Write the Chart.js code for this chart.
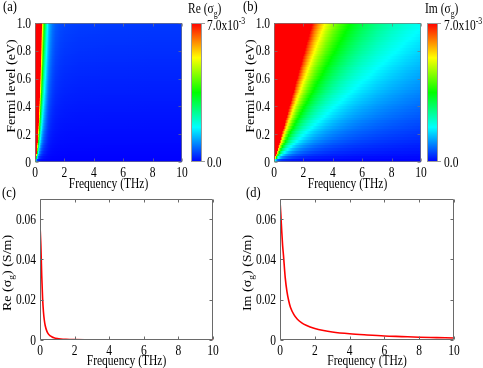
<!DOCTYPE html>
<html><head><meta charset="utf-8">
<script src="https://cdn.jsdelivr.net/npm/chart.js@4.4.1/dist/chart.umd.min.js"></script>
<style>
html,body{margin:0;padding:0;background:#fff;}
#wrap{position:relative;width:483px;height:368px;overflow:hidden;background:#fff;}
canvas{position:absolute;left:0;top:0;}
</style></head>
<body><div id="wrap">
<canvas id="ca" width="483" height="368"></canvas>
<canvas id="cb" width="483" height="368"></canvas>
<canvas id="cc" width="483" height="368"></canvas>
<canvas id="cd" width="483" height="368"></canvas>
</div>
<script>
// ---------------- data ----------------
const freqTicks  = [0, 2, 4, 6, 8, 10];
const fermiTicks = [0, 0.2, 0.4, 0.6, 0.8, 1.0];
const condTicks  = [0, 0.02, 0.04, 0.06];
const colorbarMax = 7.0;   // x10^-3

// Fermi-level rows of the maps (eV)
const fermiLevels = [0,0.02,0.04,0.06,0.08,0.1,0.12,0.14,0.16,0.18,0.2,0.22,0.24,0.26,0.28,0.3,0.32,0.34,0.36,0.38,0.4,0.42,0.44,0.46,0.48,0.5,0.52,0.54,0.56,0.58,0.6,0.62,0.64,0.66,0.68,0.7,0.72,0.74,0.76,0.78,0.8,0.82,0.84,0.86,0.88,0.9,0.92,0.94,0.96,0.98,1.0];

// (a) Re(sigma_g) read along the top row (Ef = 1 eV), x10^-3
const reMapFreq = [0,0.05,0.1,0.15,0.2,0.25,0.3,0.35,0.4,0.45,0.5,0.55,0.6,0.65,0.7,0.8,0.9,1.0,1.2,1.4,1.7,2.0,2.5,3,4,5,6,8,10];
const reMapTop  = [427,245,108,55,33,21.7,15.4,11.4,8.8,7.0,5.7,4.7,3.95,3.36,2.9,2.1,1.5,1.15,0.8,0.62,0.52,0.47,0.44,0.42,0.41,0.40,0.40,0.39,0.39];

// (b) Im(sigma_g) read along the top row (Ef = 1 eV), x10^-3
const imMapFreq = [0,0.1,0.2,0.3,0.4,0.5,0.6,0.8,1.0,1.25,1.5,1.75,2.0,2.25,2.5,2.75,3.0,3.5,4,4.5,5,5.5,6,7,8,9,10];
const imMapTop  = [280,182,91,61,45.5,36.4,30.3,22.8,18.2,14.6,12.1,10.4,9.1,8.1,7.3,6.6,6.07,5.2,4.55,4.05,3.64,3.31,3.03,2.6,2.28,2.02,1.82];

// (c) Re(sigma_g) (S/m)
const reLineFreq   = [0,0.05,0.1,0.15,0.2,0.25,0.3,0.4,0.5,0.6,0.7,0.8,1.0,1.2,1.5,2,3,4,6,8,10];
const reLineValues = [0.057,0.047,0.032,0.0207,0.0139,0.0098,0.0072,0.0043,0.0028,0.0020,0.00147,0.00113,0.00073,0.00051,0.00033,0.00018,0.00008,0.00005,0.00002,0.00001,0.00001];

// (d) Im(sigma_g) (S/m)
const imLineFreq   = [0,0.05,0.1,0.15,0.2,0.3,0.4,0.5,0.6,0.8,1.0,1.25,1.5,2,2.5,3,4,5,6,7,8,9,10];
const imLineValues = [0.069,0.062,0.054,0.047,0.042,0.031,0.024,0.0195,0.0163,0.0126,0.0103,0.0085,0.0073,0.0057,0.0047,0.0040,0.0031,0.0025,0.0020,0.0017,0.0014,0.0012,0.0010];

// ---------------- helpers ----------------
const FONT = '"Liberation Serif","Times New Roman",serif';
const FS = 11.5;
const YS = 1.22; // vertical stretch of the original figure's lettering
const cmapStops = [[0,[0,0,255]],[0.25,[0,255,255]],[0.5,[0,255,0]],[0.75,[255,255,0]],[1,[255,0,0]]];
function cmap(t){
  t = Math.max(0, Math.min(1, t));
  for (let i=0;i<cmapStops.length-1;i++){
    const [p0,c0]=cmapStops[i],[p1,c1]=cmapStops[i+1];
    if (t<=p1){ const u=(t-p0)/(p1-p0);
      return 'rgb('+c0.map((c,k)=>Math.round(c+(c1[k]-c)*u)).join(',')+')'; }
  }
  return 'rgb(255,0,0)';
}
function buildHeatTable(freqs, top){
  const cells=[];
  for (let i=0;i<fermiLevels.length-1;i++){
    const e0=fermiLevels[i], e1=fermiLevels[i+1], ef=(e0+e1)/2;
    for (let j=0;j<freqs.length;j++) cells.push({x:freqs[j], y:ef, y0:e0, y1:e1, row:i, v:ef*top[j]});
  }
  return cells;
}
function drawRich(ctx, it){
  const size = it.size || FS;
  ctx.save();
  ctx.translate(it.x, it.y);
  if (it.rot) { ctx.rotate(it.rot); ctx.scale(YS, 1); } else { ctx.scale(1, YS); }
  ctx.textBaseline='alphabetic'; ctx.textAlign='left'; ctx.fillStyle='#000';
  let w=0;
  const segs = it.parts.map(p=>{ const s=(p.sub||p.sup)?size*0.68:size; ctx.font=s+'px '+FONT; const mw=ctx.measureText(p.t).width; w+=mw; return {t:p.t,sub:p.sub,sup:p.sup,s,mw}; });
  let x = it.align==='center' ? -w/2 : (it.align==='right' ? -w : 0);
  for (const s of segs){ ctx.font=s.s+'px '+FONT; const dy = s.sub ? size*0.28 : (s.sup ? -size*0.42 : 0); ctx.fillText(s.t, x, dy); x+=s.mw; }
  ctx.restore();
}
function textPlugin(items){ return {id:'txt', afterDraw(chart){ items.forEach(it=>drawRich(chart.ctx,it)); }}; }
// tick labels, drawn at the library's tick positions
function tickLabelPlugin(xFmt, yFmt){ return {id:'tlab', afterDraw(chart){
  const {ctx, chartArea:a, scales} = chart;
  const dig = FS*0.33*YS;
  scales.x.ticks.forEach(tk=>{ drawRich(ctx,{parts:[{t:xFmt(tk.value)}], x:scales.x.getPixelForValue(tk.value), y:a.bottom+10+dig, align:'center'}); });
  scales.y.ticks.forEach(tk=>{ drawRich(ctx,{parts:[{t:yFmt(tk.value)}], x:a.left-4, y:scales.y.getPixelForValue(tk.value)+dig, align:'right'}); });
}}; }
function framePlugin(color){ return {id:'frame', afterDatasetsDraw(chart){
  const {ctx, chartArea:a, scales} = chart;
  ctx.save(); ctx.strokeStyle=color; ctx.lineWidth=1;
  const l=Math.round(a.left)+0.5, r=Math.round(a.right)-0.5, t=Math.round(a.top)+0.5, b=Math.round(a.bottom)-0.5;
  ctx.beginPath();
  ctx.rect(l,t,r-l,b-t);
  scales.x.ticks.forEach(tk=>{ const px=Math.round(scales.x.getPixelForValue(tk.value))+0.5; ctx.moveTo(px,b); ctx.lineTo(px,b-3); ctx.moveTo(px,t); ctx.lineTo(px,t+3); });
  scales.y.ticks.forEach(tk=>{ const py=Math.round(scales.y.getPixelForValue(tk.value))+0.5; ctx.moveTo(l,py); ctx.lineTo(l+3,py); ctx.moveTo(r,py); ctx.lineTo(r-3,py); });
  ctx.stroke(); ctx.restore();
}}; }
const heatPlugin = {id:'heat', beforeDatasetsDraw(chart){
  const ctx=chart.ctx, xs=chart.scales.x, ys=chart.scales.y;
  const cells=chart.data.datasets[0].data;
  const rows={};
  cells.forEach(c=>{ (rows[c.row]=rows[c.row]||[]).push(c); });
  ctx.save();
  Object.values(rows).forEach(pts=>{
    const yT=Math.round(ys.getPixelForValue(pts[0].y1)), yB=Math.round(ys.getPixelForValue(pts[0].y0));
    const xa=xs.getPixelForValue(pts[0].x), xb=xs.getPixelForValue(pts[pts.length-1].x);
    const g=ctx.createLinearGradient(xa,0,xb,0);
    const pos=p=> Math.min(1,Math.max(0,(xs.getPixelForValue(p)-xa)/(xb-xa)));
    for (let j=0;j<pts.length;j++){
      const t0=pts[j].v/colorbarMax;
      g.addColorStop(pos(pts[j].x), cmap(t0));
      if (j<pts.length-1){
        const t1=pts[j+1].v/colorbarMax;
        const bps=[0.25,0.5,0.75,1].filter(b=>(b-t0)*(b-t1)<0);
        if (t1<t0) bps.reverse();
        bps.forEach(b=>{ const u=(b-t0)/(t1-t0); g.addColorStop(pos(pts[j].x+(pts[j+1].x-pts[j].x)*u), cmap(b)); });
      }
    }
    ctx.fillStyle=g;
    ctx.fillRect(Math.round(xa), yT, Math.round(xb)-Math.round(xa), yB-yT);
  });
  ctx.restore();
}};
function colorbarPlugin(x0,x1){ return {id:'cbar', afterDraw(chart){
  const a=chart.chartArea, ctx=chart.ctx;
  const g=ctx.createLinearGradient(0,a.bottom,0,a.top);
  cmapStops.forEach(([p,c])=>g.addColorStop(p,'rgb('+c.join(',')+')'));
  ctx.save();
  ctx.fillStyle=g; ctx.fillRect(x0,Math.round(a.top),x1-x0,Math.round(a.bottom)-Math.round(a.top));
  ctx.strokeStyle='#9a9a9a'; ctx.lineWidth=1;
  ctx.strokeRect(x0+0.5,Math.round(a.top)+0.5,x1-x0-1,Math.round(a.bottom)-Math.round(a.top)-1);
  ctx.beginPath();
  ctx.moveTo(x1,Math.round(a.top)+0.5); ctx.lineTo(x1+3,Math.round(a.top)+0.5);
  ctx.moveTo(x1,Math.round(a.bottom)-0.5); ctx.lineTo(x1+3,Math.round(a.bottom)-0.5);
  ctx.stroke(); ctx.restore();
}}; }

const YW=30, XH=20;
function axisCfg(ticksArr, min, max){
  return {type:'linear', min, max,
    afterBuildTicks:s=>{ s.ticks = ticksArr.map(v=>({value:v})); },
    grid:{display:false, drawTicks:false}, border:{display:false},
    ticks:{display:false, font:{family:FONT,size:FS}}};
}
function makeOptions(L,T,R,B,yTicks,yMax){
  const x=axisCfg(freqTicks,0,10); x.afterFit=s=>{s.height=XH;};
  const y=axisCfg(yTicks,0,yMax); y.afterFit=s=>{s.width=YW;};
  return {responsive:false, animation:false, events:[],
    layout:{padding:{left:L-YW, top:T, right:483-R, bottom:368-B-XH}},
    plugins:{legend:{display:false}, tooltip:{enabled:false}},
    scales:{x, y}};
}
const fmtX = v => String(v);
const fmtF = v => v===0 ? '0' : v.toFixed(1);
const fmtC = v => v===0 ? '0' : v.toFixed(2);
const sig = (pre) => [{t:pre+' (σ'},{t:'g',sub:true},{t:')'}];

// (a)
new Chart(document.getElementById('ca'), {
  type:'scatter',
  data:{datasets:[{data:buildHeatTable(reMapFreq, reMapTop), pointRadius:0}]},
  options:makeOptions(35,23,182,162,fermiTicks,1),
  plugins:[heatPlugin, framePlugin('rgba(120,120,120,0.7)'), colorbarPlugin(191,202), tickLabelPlugin(fmtX,fmtF), textPlugin([
    {parts:[{t:'(a)'}], x:3, y:11, size:12.5},
    {parts:[{t:'Frequency (THz)'}], x:108.5, y:188, align:'center'},
    {parts:[{t:'Fermi level (eV)'}], x:15, y:86, align:'center', rot:-Math.PI/2},
    {parts:sig('Re'), x:188, y:13},
    {parts:[{t:'7.0x10'},{t:'-3',sup:true}], x:207, y:29.5},
    {parts:[{t:'0.0'}], x:207, y:166.5}
  ])]
});
// (b)
new Chart(document.getElementById('cb'), {
  type:'scatter',
  data:{datasets:[{data:buildHeatTable(imMapFreq, imMapTop), pointRadius:0}]},
  options:makeOptions(274,23,421,162,fermiTicks,1),
  plugins:[heatPlugin, framePlugin('rgba(120,120,120,0.7)'), colorbarPlugin(427,438), tickLabelPlugin(fmtX,fmtF), textPlugin([
    {parts:[{t:'(b)'}], x:243, y:11, size:12.5},
    {parts:[{t:'Frequency (THz)'}], x:347.5, y:188, align:'center'},
    {parts:[{t:'Fermi level (eV)'}], x:254, y:86, align:'center', rot:-Math.PI/2},
    {parts:sig('Im'), x:425, y:13},
    {parts:[{t:'7.0x10'},{t:'-3',sup:true}], x:444, y:29.5},
    {parts:[{t:'0.0'}], x:444, y:166.5}
  ])]
});
// (c)
new Chart(document.getElementById('cc'), {
  type:'line',
  data:{datasets:[{data:reLineFreq.map((f,i)=>({x:f,y:reLineValues[i]})), borderColor:'#ff0000', borderWidth:1.6, pointRadius:0, cubicInterpolationMode:'monotone', fill:false}]},
  options:makeOptions(40,199,213,340,condTicks,0.07),
  plugins:[framePlugin('#6a6a6a'), tickLabelPlugin(fmtX,fmtC), textPlugin([
    {parts:[{t:'(c)'}], x:2, y:197, size:12.5},
    {parts:[{t:'Frequency (THz)'}], x:126.5, y:364.5, align:'center'},
    {parts:[{t:'Re (σ'},{t:'g',sub:true},{t:') (S/m)'}], x:11, y:273, align:'center', rot:-Math.PI/2}
  ])]
});
// (d)
new Chart(document.getElementById('cd'), {
  type:'line',
  data:{datasets:[{data:imLineFreq.map((f,i)=>({x:f,y:imLineValues[i]})), borderColor:'#ff0000', borderWidth:1.6, pointRadius:0, cubicInterpolationMode:'monotone', fill:false}]},
  options:makeOptions(280,199,454,340,condTicks,0.07),
  plugins:[framePlugin('#6a6a6a'), tickLabelPlugin(fmtX,fmtC), textPlugin([
    {parts:[{t:'(d)'}], x:246, y:197, size:12.5},
    {parts:[{t:'Frequency (THz)'}], x:367, y:364.5, align:'center'},
    {parts:[{t:'Im (σ'},{t:'g',sub:true},{t:') (S/m)'}], x:251, y:273, align:'center', rot:-Math.PI/2}
  ])]
});
</script>
</body></html>
